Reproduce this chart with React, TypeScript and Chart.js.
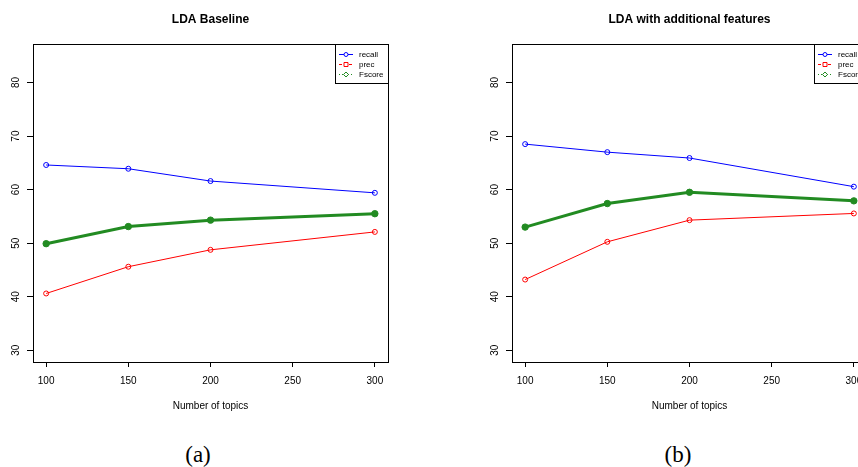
import React, { useEffect, useRef } from 'react';
import { Chart, registerables } from 'chart.js';

Chart.register(...registerables);

// ---- data ----
const topics = [100, 150, 200, 300];
const xTicks = [100, 150, 200, 250, 300];
const yTicks = [30, 40, 50, 60, 70, 80];
const xRange = [92, 308];
const yRange = [27.8, 87.2];
const seriesLabels = ['recall', 'prec', 'Fscore'];

const baselineRecall = [64.6, 63.9, 61.6, 59.4];
const baselinePrec = [40.6, 45.6, 48.75, 52.1];
const baselineFscore = [49.9, 53.1, 54.3, 55.5];

const featRecall = [68.5, 67.0, 65.9, 60.55];
const featPrec = [43.2, 50.25, 54.3, 55.55];
const featFscore = [53.0, 57.4, 59.5, 57.9];

const titleA = 'LDA Baseline';
const titleB = 'LDA with additional features';
const xTitle = 'Number of topics';

// ---- styles ----
const FONT = '"Liberation Sans", Arial, Helvetica, sans-serif';
const colors = ['#0000FF', '#FF0000', '#228B22'];
const legendDash = [[], [3, 2], [1, 2]];
const legendMarker = ['circle', 'square', 'diamond'];
const CW = 479;
const CH = 430;

const rPlugin = {
  id: 'rstyle',
  afterDraw(chart: any, _args: any, opts: any) {
    const { ctx, chartArea: a } = chart;
    ctx.save();
    ctx.strokeStyle = '#000';
    ctx.lineWidth = 1;
    ctx.setLineDash([]);
    ctx.strokeRect(Math.round(a.left) + 0.5, Math.round(a.top) + 0.5, Math.round(a.right - a.left), Math.round(a.bottom - a.top));
    // title
    ctx.font = 'bold 12px ' + FONT;
    ctx.fillStyle = '#000';
    ctx.textAlign = 'center';
    ctx.textBaseline = 'middle';
    ctx.fillText(opts.title, (a.left + a.right) / 2, 20);
    // legend (R style)
    const w = 53;
    const h = 39;
    const x0 = Math.round(a.right) - w;
    const y0 = Math.round(a.top);
    ctx.fillStyle = '#fff';
    ctx.fillRect(x0, y0, w, h);
    ctx.strokeStyle = '#000';
    ctx.strokeRect(x0 + 0.5, y0 + 0.5, w, h);
    chart.data.datasets.forEach((ds: any, i: number) => {
      const y = y0 + 10.5 + i * 10;
      const c = colors[i];
      ctx.strokeStyle = c;
      ctx.lineWidth = 1;
      ctx.setLineDash(legendDash[i]);
      ctx.beginPath();
      ctx.moveTo(x0 + 4, y);
      ctx.lineTo(x0 + 18, y);
      ctx.stroke();
      ctx.setLineDash([]);
      const mx = x0 + 11;
      ctx.fillStyle = '#fff';
      ctx.beginPath();
      if (legendMarker[i] === 'circle') {
        ctx.arc(mx, y, 2, 0, Math.PI * 2);
      } else if (legendMarker[i] === 'square') {
        ctx.rect(mx - 2, y - 2, 4, 4);
      } else {
        ctx.moveTo(mx, y - 2.5);
        ctx.lineTo(mx + 2.5, y);
        ctx.lineTo(mx, y + 2.5);
        ctx.lineTo(mx - 2.5, y);
        ctx.closePath();
      }
      ctx.fill();
      ctx.stroke();
      ctx.fillStyle = '#000';
      ctx.font = '8px ' + FONT;
      ctx.textAlign = 'left';
      ctx.textBaseline = 'middle';
      ctx.fillText(ds.label, x0 + 24, y);
    });
    ctx.restore();
  },
};

function Panel({ title, recall, prec, fscore }: { title: string; recall: number[]; prec: number[]; fscore: number[] }) {
  const ref = useRef<HTMLCanvasElement>(null);
  useEffect(() => {
    if (!ref.current) return;
    const mk = (vals: number[]) => topics.map((x, i) => ({ x, y: vals[i] }));
    const series = [recall, prec, fscore];
    const chart = new Chart(ref.current, {
      type: 'line',
      data: {
        datasets: series.map((vals, i) => ({
          label: seriesLabels[i],
          data: mk(vals),
          borderColor: colors[i],
          backgroundColor: i === 2 ? colors[i] : 'rgba(255,255,255,0)',
          borderWidth: i === 2 ? 3 : 1,
          pointRadius: i === 2 ? 3.2 : 2.5,
          pointBorderWidth: 1,
          pointBackgroundColor: i === 2 ? colors[i] : 'rgba(255,255,255,0)',
          pointBorderColor: colors[i],
          tension: 0,
          order: 2 - i,
        })),
      },
      options: {
        responsive: false,
        animation: false,
        devicePixelRatio: 1,
        layout: { padding: { top: 44, right: CW - 388, left: 0, bottom: 0 } },
        plugins: {
          legend: { display: false },
          title: { display: false },
          tooltip: { enabled: false },
          rstyle: { title },
        } as any,
        scales: {
          x: {
            type: 'linear',
            min: xRange[0],
            max: xRange[1],
            afterBuildTicks: (s: any) => { s.ticks = xTicks.map((v) => ({ value: v })); },
            afterFit: (s: any) => { s.height = CH - 362; },
            grid: { drawOnChartArea: false, drawTicks: true, tickLength: 5, color: '#000', lineWidth: 1 },
            border: { display: true, color: '#000', width: 1 },
            ticks: { color: '#000', font: { size: 10, family: FONT }, padding: 8, maxRotation: 0, minRotation: 0 },
            title: { display: true, text: xTitle, color: '#000', font: { size: 10, family: FONT }, padding: { top: 18, bottom: 18 } },
          },
          y: {
            type: 'linear',
            min: yRange[0],
            max: yRange[1],
            afterBuildTicks: (s: any) => { s.ticks = yTicks.map((v) => ({ value: v })); },
            afterFit: (s: any) => { s.width = 33; },
            grid: { drawOnChartArea: false, drawTicks: true, tickLength: 6, color: '#000', lineWidth: 1 },
            border: { display: true, color: '#000', width: 1 },
            ticks: { color: '#000', font: { size: 10, family: FONT }, padding: 5, minRotation: 90, maxRotation: 90, crossAlign: 'center' },
          },
        },
      } as any,
      plugins: [rPlugin],
    });
    return () => chart.destroy();
  }, [title, recall, prec, fscore]);
  return <canvas ref={ref} width={CW} height={CH} style={{ display: 'block', width: CW, height: CH }} />;
}

export default function App() {
  const cap: React.CSSProperties = {
    position: 'absolute',
    top: 443,
    width: 80,
    textAlign: 'center',
    fontFamily: '"Liberation Serif", "Times New Roman", serif',
    fontSize: 23,
    lineHeight: '24px',
    color: '#000',
  };
  return (
    <div style={{ position: 'fixed', left: 0, top: 0, width: 858, height: 467, overflow: 'hidden', background: '#fff' }}>
      <div style={{ position: 'absolute', left: 0, top: 0 }}>
        <Panel title={titleA} recall={baselineRecall} prec={baselinePrec} fscore={baselineFscore} />
      </div>
      <div style={{ position: 'absolute', left: CW, top: 0 }}>
        <Panel title={titleB} recall={featRecall} prec={featPrec} fscore={featFscore} />
      </div>
      <div style={{ ...cap, left: 198 - 40 }}>(a)</div>
      <div style={{ ...cap, left: 678 - 40 }}>(b)</div>
    </div>
  );
}
